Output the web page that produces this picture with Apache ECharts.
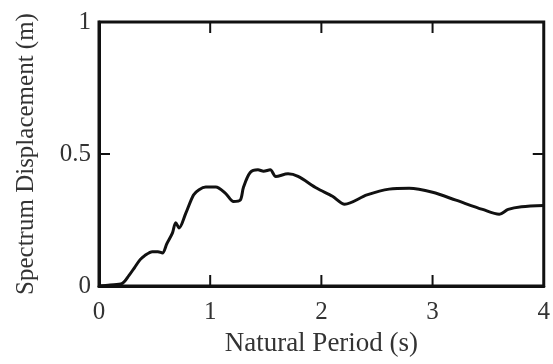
<!DOCTYPE html>
<html>
<head>
<meta charset="utf-8">
<script src="https://cdn.jsdelivr.net/npm/echarts@6/dist/echarts.min.js"></script>
<style>
  html, body { margin: 0; padding: 0; background: #fff; }
  #chart { width: 553px; height: 364px; }
</style>
</head>
<body>
<div id="chart"></div>
<script>
  // natural period (s) and spectrum displacement (m)
  const period = [
    0, 0.1, 0.21, 0.27, 0.32, 0.37, 0.41, 0.48, 0.53, 0.57, 0.61, 0.66, 0.69, 0.72,
    0.78, 0.85, 0.9, 0.96, 1.05, 1.14, 1.21, 1.27, 1.30, 1.36, 1.43, 1.48, 1.54,
    1.59, 1.70, 1.79, 1.96, 2.1, 2.21, 2.41, 2.61, 2.79, 3.0, 3.21, 3.45, 3.6,
    3.68, 3.80, 4.0
  ];
  const displacement = [
    0, 0.004, 0.01, 0.04, 0.07, 0.1, 0.115, 0.13, 0.13, 0.125, 0.16, 0.2, 0.24, 0.22,
    0.275, 0.345, 0.365, 0.375, 0.375, 0.35, 0.32, 0.325, 0.375, 0.43, 0.44, 0.435, 0.44,
    0.415, 0.425, 0.415, 0.37, 0.34, 0.31, 0.345, 0.367, 0.37, 0.355, 0.325, 0.29, 0.272,
    0.29, 0.30, 0.305
  ];
  const xTicks = [0, 1, 2, 3, 4];
  const yTicks = [0, 0.5, 1];

  const serif = 'Liberation Serif';
  const xMin = xTicks[0], xMax = xTicks[xTicks.length - 1];
  const yMin = yTicks[0], yMax = yTicks[yTicks.length - 1];

  // inward ticks on all four sides of the box: [x, y, dirX, dirY]
  const tickMarks = [];
  xTicks.slice(1, -1).forEach(v => {
    tickMarks.push([v, yMin, 0, -1]);
    tickMarks.push([v, yMax, 0, 1]);
  });
  yTicks.slice(1, -1).forEach(v => {
    tickMarks.push([xMin, v, 1, 0]);
    tickMarks.push([xMax, v, -1, 0]);
  });

  const chart = echarts.init(document.getElementById('chart'));
  chart.setOption({
    animation: false,
    backgroundColor: '#fff',
    grid: { left: 99, right: 4, top: 22, bottom: 78, show: true, borderColor: '#111', borderWidth: 3 },
    xAxis: {
      type: 'value', min: xMin, max: xMax, interval: 1,
      axisLine: { show: true, onZero: false, lineStyle: { color: '#111', width: 3 } },
      axisTick: { show: false },
      splitLine: { show: false },
      name: 'Natural Period (s)', nameLocation: 'middle', nameGap: 44,
      nameTextStyle: { fontFamily: serif, fontSize: 27, color: '#333' },
      axisLabel: { fontFamily: serif, fontSize: 25, color: '#333', margin: 14 }
    },
    yAxis: {
      type: 'value', min: yMin, max: yMax, interval: 0.5,
      axisLine: { show: true, onZero: false, lineStyle: { color: '#111', width: 3 } },
      axisTick: { show: false },
      splitLine: { show: false },
      name: 'Spectrum Displacement (m)', nameLocation: 'middle', nameGap: 60,
      nameTextStyle: { fontFamily: serif, fontSize: 25, color: '#333' },
      axisLabel: { fontFamily: serif, fontSize: 25, color: '#333', margin: 8 }
    },
    series: [
      {
        type: 'line',
        data: period.map((p, i) => [p, displacement[i]]),
        showSymbol: false,
        smooth: 0.3,
        lineStyle: { color: '#111', width: 3 }
      },
      {
        type: 'custom',
        silent: true,
        clip: false,
        data: tickMarks,
        renderItem: (params, api) => {
          const p = api.coord([api.value(0), api.value(1)]);
          const len = 11;
          return {
            type: 'line',
            shape: { x1: p[0], y1: p[1], x2: p[0] + api.value(2) * len, y2: p[1] + api.value(3) * len },
            style: { stroke: '#111', lineWidth: 2 }
          };
        }
      }
    ]
  });
</script>
</body>
</html>
